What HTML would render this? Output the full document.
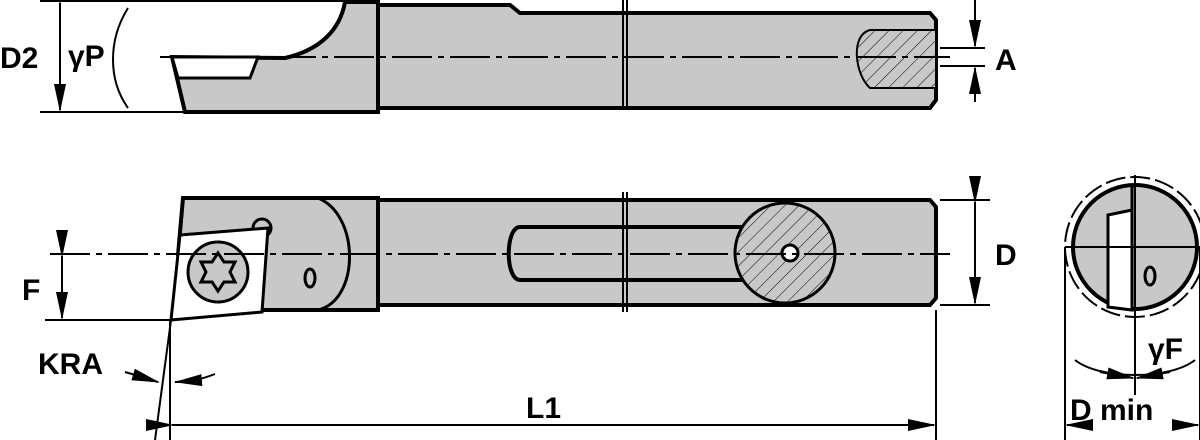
<!DOCTYPE html>
<html><head><style>body{margin:0;background:#fff}svg{display:block}text{font-family:"Liberation Sans",Arial,sans-serif;font-size:30px;font-weight:bold;fill:#000}</style></head><body>
<svg width="1200" height="440" viewBox="0 0 1200 440" xmlns="http://www.w3.org/2000/svg">
<defs>
<marker id="ar" markerWidth="14" markerHeight="8" refX="13" refY="4" orient="auto"><path d="M0,1 L14,4 L0,7z" fill="#000"/></marker>
<pattern id="hat" width="10" height="10" patternUnits="userSpaceOnUse" patternTransform="rotate(-45)"><rect width="10" height="10" fill="#c8c8c8"/><line x1="0" y1="0" x2="10" y2="0" stroke="#000" stroke-width="1"/></pattern>
</defs>
<g stroke="#000" stroke-width="4" fill="#c8c8c8">
<path d="M378,5 L510,5 L520,13 L930,13 L936,20 L936,100 L930,108 L378,108z"/>
<path d="M345,2 L378,2 L378,112 L185,112 L172,57 L285,58 C320,50 340,30 345,2z"/>
<path d="M172,57 L258,57 L250,78 L178,78z" fill="#fff" stroke-width="3"/>
<path d="M870,30 C850,35 855,75 870,88 L936,88 L936,30z" fill="url(#hat)" stroke-width="2"/>
<path d="M378,200 L930,200 L936,207 L936,298 L930,305 L378,305z"/>
<path d="M183,198 L378,198 L378,310 L200,310 L178,255z"/>
<path d="M318,198 C360,215 360,300 318,310" fill="none" stroke-width="3"/>
<path d="M520,227 L760,227 L760,280 L520,280 C505,280 505,227 520,227z"/>
<circle cx="785" cy="253" r="50" fill="url(#hat)" stroke-width="3"/>
<circle cx="790" cy="253" r="8" fill="#fff" stroke-width="3"/>
<circle cx="262" cy="228" r="9" fill="#c8c8c8" stroke-width="3"/>
<path d="M180,235 L268,228 L262,312 L171,320z" fill="#fff" stroke-width="3"/>
<circle cx="218" cy="272" r="30" fill="#c8c8c8" stroke-width="3"/>
<path d="M218,253 L224,262 L235,262 L230,272 L235,282 L224,282 L218,291 L212,282 L201,282 L206,272 L201,262 L212,262z" fill="#c8c8c8" stroke-width="3"/>
<ellipse cx="310" cy="278" rx="5" ry="9" fill="none" stroke-width="3"/>
<circle cx="1135" cy="247" r="62"/>
<path d="M1132,185 L1132,210 L1108,215 L1108,307 L1132,310z" fill="#fff" stroke-width="3"/>
<ellipse cx="1150" cy="276" rx="5" ry="9" fill="none" stroke-width="3"/>
</g>
<g stroke="#000" stroke-width="2" fill="none">
<circle cx="1135" cy="247" r="70" stroke-dasharray="20 5"/>
<line x1="160" y1="57" x2="950" y2="57" stroke-dasharray="40 6 6 6"/>
<line x1="50" y1="254" x2="950" y2="254" stroke-dasharray="40 6 6 6"/>
<line x1="1065" y1="247" x2="1200" y2="247"/>
<line x1="1135" y1="175" x2="1135" y2="395"/>
<line x1="623" y1="0" x2="623" y2="110"/><line x1="627" y1="0" x2="627" y2="110"/>
<line x1="623" y1="192" x2="623" y2="312"/><line x1="627" y1="192" x2="627" y2="312"/>
<line x1="40" y1="1" x2="345" y2="1"/><line x1="40" y1="112" x2="185" y2="112"/>
<line x1="60" y1="3" x2="60" y2="110" marker-start="url(#ar)" marker-end="url(#ar)"/>
<path d="M128,8 C108,40 108,80 128,108"/>
<line x1="940" y1="48" x2="985" y2="48"/><line x1="940" y1="66" x2="985" y2="66"/>
<line x1="975" y1="0" x2="975" y2="46" marker-end="url(#ar)"/><line x1="975" y1="102" x2="975" y2="68" marker-end="url(#ar)"/>
<line x1="940" y1="200" x2="990" y2="200"/><line x1="940" y1="305" x2="990" y2="305"/>
<line x1="975" y1="202" x2="975" y2="303" marker-start="url(#ar)" marker-end="url(#ar)"/>
<line x1="45" y1="320" x2="175" y2="320"/>
<line x1="62" y1="256" x2="62" y2="318" marker-start="url(#ar)" marker-end="url(#ar)"/>
<line x1="171" y1="320" x2="155" y2="440"/>
<line x1="170" y1="320" x2="170" y2="440"/><line x1="936" y1="310" x2="936" y2="440"/>
<line x1="172" y1="425" x2="934" y2="425" marker-start="url(#ar)" marker-end="url(#ar)"/>
<line x1="125" y1="372" x2="158" y2="382" marker-end="url(#ar)"/>
<path d="M175,382 C190,382 205,378 215,374" /><line x1="190" y1="381" x2="176" y2="382" marker-end="url(#ar)"/>
<line x1="1065" y1="247" x2="1065" y2="440"/><line x1="1200" y1="247" x2="1200" y2="440"/>
<line x1="1090" y1="425" x2="1067" y2="425" marker-end="url(#ar)"/><line x1="1175" y1="425" x2="1198" y2="425" marker-end="url(#ar)"/>
<path d="M1075,360 C1100,380 1170,380 1195,360"/>
<line x1="1100" y1="372" x2="1133" y2="378" marker-end="url(#ar)"/><line x1="1170" y1="372" x2="1137" y2="378" marker-end="url(#ar)"/>
</g>
<text x="0" y="68">D2</text>
<text x="68" y="66">γP</text>
<text x="995" y="70">A</text>
<text x="995" y="265">D</text>
<text x="22" y="300">F</text>
<text x="38" y="374">KRA</text>
<text x="526" y="418">L1</text>
<text x="1148" y="359">γF</text>
<text x="1070" y="420">D min</text>
</svg>
</body></html>
